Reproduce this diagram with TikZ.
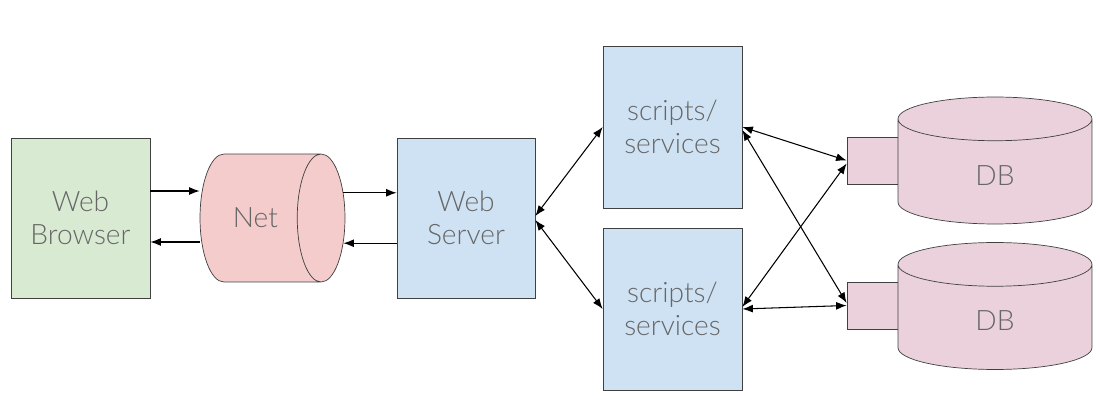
\documentclass[tikz,border=0pt]{standalone}
\usepackage{fontspec}
\setmainfont{Lato}[UprightFont=* Light]
\usepackage{xcolor}
\usetikzlibrary{shapes.geometric,arrows.meta,positioning}

\definecolor{browsergreen}{HTML}{D9EAD3}
\definecolor{netred}{HTML}{F4CCCC}
\definecolor{serverblue}{HTML}{CFE2F3}
\definecolor{dbpink}{HTML}{EAD1DC}
\definecolor{labelgray}{HTML}{666666}

\begin{document}
\begin{tikzpicture} [
      x = 0.02cm, y = -0.02cm,
      >={Latex[length=6pt,width=4.5pt]},
      every node/.style = { draw = black!75, text = labelgray, align = center,
        font = \fontsize{16}{19}\selectfont },
      box/.style = { rectangle, minimum width = 2.78cm, minimum height = 3.2cm },
      tank/.style = { cylinder, shape border rotate = 90, aspect = 0.86, anchor = shape center,
        minimum width = 3.88cm, minimum height = 2.54cm, fill = dbpink },
      port/.style = { rectangle, minimum width = 1.02cm, minimum height = 0.94cm, fill = dbpink },
      link/.style = { draw, black, line width = 0.6pt }
      ]
    \useasboundingbox (0,0) rectangle (1100,402);

    \node [box, fill = browsergreen] (browser) at (80.5,218) {Web\\Browser};
    \node [cylinder, aspect = 1.5, anchor = shape center, minimum width = 2.56cm,
      minimum height = 2.9cm, fill = netred] (net) at (272.5,218) {Net};
    \node [box, minimum width = 2.76cm, fill = serverblue] (server) at (466,218) {Web\\Server};
    \node [box, minimum height = 3.24cm, fill = serverblue] (scripts1) at (672.5,127) {scripts/\\services};
    \node [box, minimum height = 3.24cm, fill = serverblue] (scripts2) at (672.5,309) {scripts/\\services};

    \node [port] (port1) at (872.5,160.5) {};
    \node [port] (port2) at (872.5,305.5) {};
    \node [tank] (db1) at (995,160.5) {DB};
    \node [tank] (db2) at (995,306) {DB};

    % browser <-> net <-> server
    \draw [link, ->] ([yshift=0.54cm]browser.east) -- ([yshift=0.54cm]browser.east -| net.west);
    \draw [link, <-] ([yshift=-0.48cm]browser.east) -- ([yshift=-0.48cm]browser.east -| net.west);
    \draw [link, ->] (net.16.5) -- (net.16.5 -| server.west);
    \draw [link, <-] (net.-16) -- (net.-16 -| server.west);

    % server <-> scripts
    \draw [link, <->] ([yshift=0.04cm]server.east) -- (scripts1.west);
    \draw [link, <->] ([yshift=-0.04cm]server.east) -- (scripts2.west);

    % scripts <-> databases
    \draw [link, <->] (scripts1.east) -- (port1.west);
    \draw [link, <->] ([yshift=-0.06cm]scripts1.east) -- ([yshift=0.05cm]port2.west);
    \draw [link, <->] ([yshift=0.04cm]scripts2.east) -- ([yshift=-0.06cm]port1.west);
    \draw [link, <->] (scripts2.east) -- (port2.west);
\end{tikzpicture}
\end{document}
